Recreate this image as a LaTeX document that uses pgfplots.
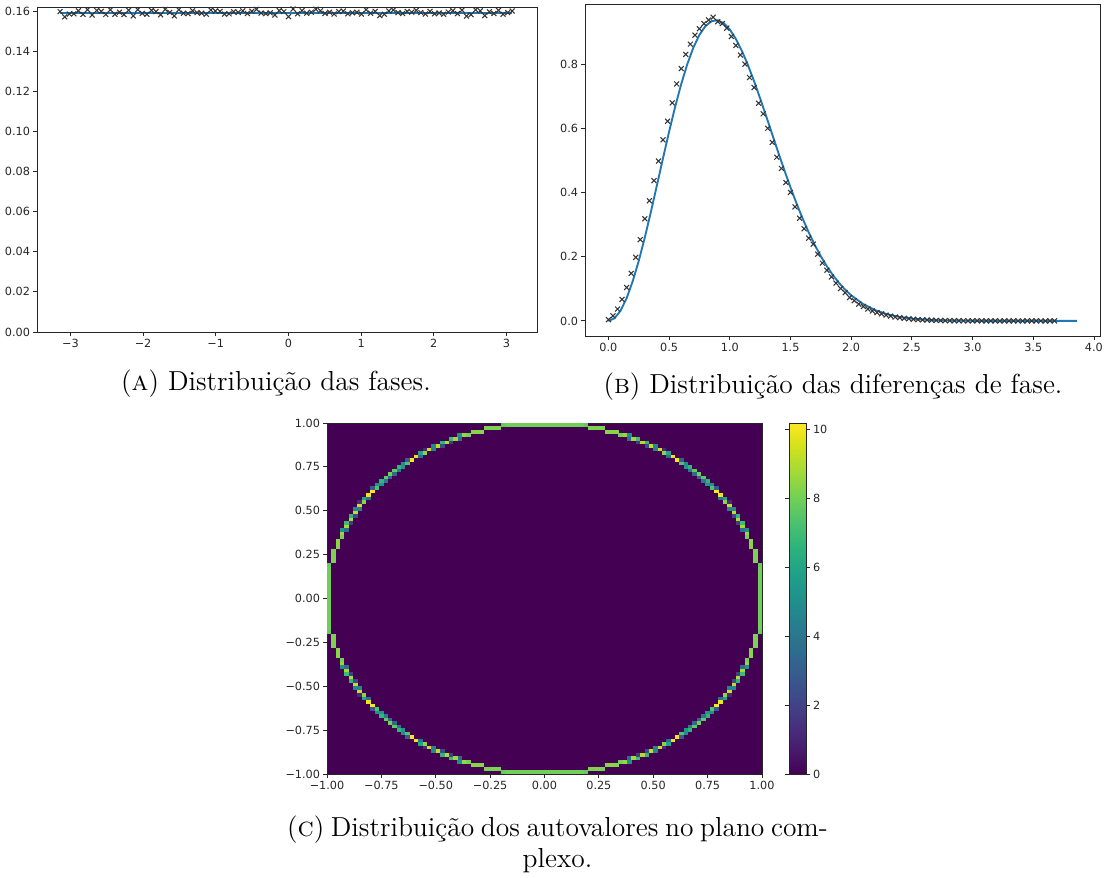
\documentclass[border=0pt]{standalone}
\usepackage{fontspec}
\usepackage{pgfplots}
\pgfplotsset{compat=1.18}
\newfontfamily\dejavu{DejaVu Sans}
\newcommand\tf{\dejavu\fontsize{4.5}{5.4}\selectfont}
\definecolor{mplblue}{HTML}{1F77B4}
\definecolor{vir0}{HTML}{440154}
\pgfdeclareplotmark{cell}{\pgfpathrectangle{\pgfqpoint{-0.89pt}{-0.72pt}}{\pgfqpoint{1.78pt}{1.44pt}}\pgfusepathqfill}
\pgfplotsset{
  mplstyle/.style={
    scale only axis, tick pos=left, tick align=outside,
    major tick length=1.6pt,
    major tick style={black!85, line width=0.35pt},
    axis line style={black!85, line width=0.4pt},
    tick label style={font=\tf, text=black!85},
    xticklabel style={inner sep=1pt},
    yticklabel style={inner sep=1pt},
  }
}
\begin{document}
\begin{tikzpicture}
\useasboundingbox (0,-350.8pt) rectangle (444.4pt,0);
% (A)
\begin{axis}[mplstyle, at={(14.8pt,-2.8pt)}, anchor=north west,
  width=200pt, height=130pt,
  xmin=-3.46, xmax=3.42, ymin=0, ymax=0.162,
  xtick={-3,-2,-1,0,1,2,3}, xticklabels={−3,−2,−1,0,1,2,3},
  ytick={0,0.02,0.04,0.06,0.08,0.1,0.12,0.14,0.16},
  yticklabels={0.00,0.02,0.04,0.06,0.08,0.10,0.12,0.14,0.16}]
\addplot[only marks, mark=x, mark size=1.4pt, black!80, mark options={line width=0.42pt}] coordinates {
(-3.142,0.1597) (-3.079,0.1571) (-3.016,0.1585) (-2.953,0.1586) (-2.890,0.1601) (-2.827,0.1583) (-2.765,0.1607) (-2.702,0.1580) (-2.639,0.1603) (-2.576,0.1598)
(-2.513,0.1583) (-2.450,0.1606) (-2.388,0.1584) (-2.325,0.1594) (-2.262,0.1582) (-2.199,0.1604) (-2.136,0.1576) (-2.073,0.1607) (-2.011,0.1588) (-1.948,0.1584)
(-1.885,0.1603) (-1.822,0.1597) (-1.759,0.1581) (-1.696,0.1608) (-1.634,0.1593) (-1.571,0.1576) (-1.508,0.1606) (-1.445,0.1589) (-1.382,0.1587) (-1.319,0.1601)
(-1.257,0.1592) (-1.194,0.1589) (-1.131,0.1584) (-1.068,0.1605) (-1.005,0.1600) (-0.942,0.1598) (-0.880,0.1585) (-0.817,0.1586) (-0.754,0.1596) (-0.691,0.1593)
(-0.628,0.1601) (-0.565,0.1588) (-0.503,0.1599) (-0.440,0.1608) (-0.377,0.1590) (-0.314,0.1587) (-0.251,0.1591) (-0.188,0.1580) (-0.126,0.1602) (-0.063,0.1597)
(0.000,0.1572) (0.063,0.1610) (0.126,0.1586) (0.188,0.1602) (0.251,0.1589) (0.314,0.1594) (0.377,0.1609) (0.440,0.1601) (0.503,0.1588) (0.565,0.1594)
(0.628,0.1585) (0.691,0.1597) (0.754,0.1600) (0.817,0.1586) (0.880,0.1591) (0.942,0.1594) (1.005,0.1585) (1.068,0.1606) (1.131,0.1589) (1.194,0.1598)
(1.257,0.1577) (1.319,0.1584) (1.382,0.1600) (1.445,0.1605) (1.508,0.1592) (1.571,0.1588) (1.634,0.1598) (1.696,0.1594) (1.759,0.1603) (1.822,0.1592)
(1.885,0.1585) (1.948,0.1598) (2.011,0.1586) (2.073,0.1590) (2.136,0.1584) (2.199,0.1595) (2.262,0.1601) (2.325,0.1587) (2.388,0.1604) (2.450,0.1575)
(2.513,0.1582) (2.576,0.1606) (2.639,0.1601) (2.702,0.1577) (2.765,0.1596) (2.827,0.1588) (2.890,0.1603) (2.953,0.1584) (3.016,0.1592) (3.079,0.1600)
};
\addplot[mplblue, line width=0.75pt] coordinates {(-3.142,0.15915) (3.079,0.15915)};
\end{axis}
% (B)
\begin{axis}[mplstyle, at={(234pt,-1.6pt)}, anchor=north west,
  width=206pt, height=132.8pt,
  xmin=-0.193, xmax=4.05, ymin=-0.047, ymax=0.987,
  xtick={0,0.5,1,1.5,2,2.5,3,3.5,4}, xticklabels={0.0,0.5,1.0,1.5,2.0,2.5,3.0,3.5,4.0},
  ytick={0,0.2,0.4,0.6,0.8}, yticklabels={0.0,0.2,0.4,0.6,0.8}]
\addplot[only marks, mark=x, mark size=1.4pt, black!80, mark options={line width=0.42pt}] coordinates {
(0,0.004) (0.0375,0.016) (0.075,0.037) (0.1125,0.067) (0.15,0.104) (0.1875,0.148) (0.225,0.198) (0.2625,0.253) (0.3,0.318) (0.3375,0.374)
(0.375,0.437) (0.4125,0.498) (0.45,0.564) (0.4875,0.622) (0.525,0.679) (0.5625,0.738) (0.6,0.786) (0.6375,0.830) (0.675,0.862) (0.7125,0.890)
(0.75,0.910) (0.7875,0.926) (0.825,0.937) (0.8625,0.946) (0.9,0.932) (0.9375,0.926) (0.975,0.912) (1.0125,0.886) (1.05,0.858) (1.0875,0.828)
(1.125,0.800) (1.1625,0.758) (1.2,0.727) (1.2375,0.678) (1.275,0.645) (1.3125,0.600) (1.35,0.556) (1.3875,0.510) (1.425,0.475) (1.4625,0.431)
(1.5,0.400) (1.5375,0.355) (1.575,0.320) (1.6125,0.287) (1.65,0.258) (1.6875,0.239) (1.725,0.208) (1.7625,0.180) (1.8,0.158) (1.8375,0.137)
(1.875,0.118) (1.9125,0.101) (1.95,0.088) (1.9875,0.073) (2.025,0.063) (2.0625,0.052) (2.1,0.045) (2.1375,0.037) (2.175,0.031) (2.2125,0.026)
(2.25,0.022) (2.2875,0.018) (2.325,0.015) (2.3625,0.012) (2.4,0.010) (2.4375,0.008) (2.475,0.007) (2.5125,0.005) (2.55,0.004) (2.5875,0.0035)
(2.625,0.0028) (2.6625,0.0022) (2.7,0.0017) (2.7375,0.0013) (2.775,0.0010) (2.8125,0.0008) (2.85,0.0006) (2.8875,0.0005) (2.925,0.0004) (2.9625,0.0003)
(3.0,0.0002) (3.0375,0.0002) (3.075,0.0001) (3.1125,0.0001) (3.15,0) (3.1875,0) (3.225,0) (3.2625,0) (3.3,0) (3.3375,0)
(3.375,0) (3.4125,0) (3.45,0) (3.4875,0) (3.525,0) (3.5625,0) (3.6,0) (3.6375,0) (3.675,0)
};
\addplot[mplblue, line width=0.75pt] coordinates {
(0,0) (0.05,0.0081) (0.1,0.0320) (0.15,0.0709) (0.2,0.1233) (0.25,0.1871) (0.3,0.2602) (0.35,0.3398) (0.4,0.4232) (0.45,0.5073)
(0.5,0.5896) (0.55,0.6673) (0.6,0.7380) (0.65,0.7999) (0.7,0.8514) (0.75,0.8911) (0.8,0.9186) (0.85,0.9336) (0.9,0.9364) (0.95,0.9274)
(1.0,0.9076) (1.05,0.8781) (1.1,0.8405) (1.15,0.7961) (1.2,0.7465) (1.25,0.6929) (1.3,0.6372) (1.35,0.5805) (1.4,0.5240) (1.45,0.4688)
(1.5,0.4157) (1.55,0.3656) (1.6,0.3188) (1.65,0.2757) (1.7,0.2364) (1.75,0.2012) (1.8,0.1698) (1.85,0.1422) (1.9,0.1181) (1.95,0.0973)
(2.0,0.0796) (2.1,0.0521) (2.2,0.0331) (2.3,0.0204) (2.4,0.0122) (2.5,0.0071) (2.6,0.0040) (2.7,0.0022) (2.8,0.0012) (3.0,0.0003)
(3.2,0.0001) (3.5,0) (3.86,0)
};
\end{axis}
% (C)
\begin{axis}[mplstyle, at={(130.8pt,-169.2pt)}, anchor=north west,
  width=174pt, height=140.4pt, axis on top,
  xmin=-1, xmax=1, ymin=-1, ymax=1,
  xtick={-1,-0.75,-0.5,-0.25,0,0.25,0.5,0.75,1},
  xticklabels={−1.00,−0.75,−0.50,−0.25,0.00,0.25,0.50,0.75,1.00},
  ytick={-1,-0.75,-0.5,-0.25,0,0.25,0.5,0.75,1},
  yticklabels={−1.00,−0.75,−0.50,−0.25,0.00,0.25,0.50,0.75,1.00},
  colormap/viridis, point meta min=0, point meta max=10.2,
  colorbar,
  colorbar shift/.style={xshift=10.8pt},
  colorbar style={at={(parent axis.north east)}, anchor=north west,
    scale only axis, width=6.8pt,
    ytick={0,2,4,6,8,10}, yticklabels={0,2,4,6,8,10},
    tick align=outside, major tick length=1.6pt,
    major tick style={black!85, line width=0.35pt},
    axis line style={black!85, line width=0.4pt},
    yticklabel pos=right,
    tick label style={font=\tf, text=black!85},
    yticklabel style={inner sep=1pt}}]
\addplot[draw=none, fill=vir0] coordinates {(-1,-1) (1,-1) (1,1) (-1,1) (-1,-1)};
\addplot[scatter, only marks, mark=cell, point meta=explicit,
  scatter/use mapped color={draw=none, fill=mapped color}] coordinates {
% octant (x,y)
(0.01,0.99)[8] (0.03,0.99)[8] (0.05,0.99)[8] (0.07,0.99)[8] (0.09,0.99)[8] (0.11,0.99)[8] (0.13,0.99)[8] (0.15,0.99)[8] (0.17,0.99)[8] (0.19,0.99)[7.8]
(0.21,0.97)[8.2] (0.23,0.97)[8.2] (0.25,0.97)[8.2] (0.27,0.97)[8.2] (0.29,0.95)[8.4] (0.31,0.95)[8.4] (0.33,0.95)[8.4]
(0.35,0.93)[8.1] (0.37,0.93)[8.6] (0.39,0.93)[5.1] (0.39,0.91)[3.6] (0.41,0.91)[8.8] (0.43,0.91)[7.0]
(0.43,0.89)[1.8] (0.45,0.89)[9.0] (0.47,0.89)[6.7] (0.47,0.87)[2.3] (0.49,0.87)[9.2] (0.51,0.87)[4.7]
(0.51,0.85)[4.6] (0.53,0.85)[9.4] (0.55,0.85)[1.2] (0.55,0.83)[8.4] (0.57,0.83)[6.0] (0.57,0.81)[3.8] (0.59,0.81)[9.9]
(0.61,0.79)[10.1] (0.63,0.79)[2.9] (0.63,0.77)[7.4] (0.65,0.77)[5.1] (0.65,0.75)[5.4] (0.67,0.75)[6.7]
(0.67,0.73)[4.1] (0.69,0.73)[7.7] (0.69,0.71)[3.4] (0.71,0.71)[8.0]
% (-x,y)
(-0.01,0.99)[8] (-0.03,0.99)[8] (-0.05,0.99)[8] (-0.07,0.99)[8] (-0.09,0.99)[8] (-0.11,0.99)[8] (-0.13,0.99)[8] (-0.15,0.99)[8] (-0.17,0.99)[8] (-0.19,0.99)[7.8]
(-0.21,0.97)[8.2] (-0.23,0.97)[8.2] (-0.25,0.97)[8.2] (-0.27,0.97)[8.2] (-0.29,0.95)[8.4] (-0.31,0.95)[8.4] (-0.33,0.95)[8.4]
(-0.35,0.93)[8.1] (-0.37,0.93)[8.6] (-0.39,0.93)[5.1] (-0.39,0.91)[3.6] (-0.41,0.91)[8.8] (-0.43,0.91)[7.0]
(-0.43,0.89)[1.8] (-0.45,0.89)[9.0] (-0.47,0.89)[6.7] (-0.47,0.87)[2.3] (-0.49,0.87)[9.2] (-0.51,0.87)[4.7]
(-0.51,0.85)[4.6] (-0.53,0.85)[9.4] (-0.55,0.85)[1.2] (-0.55,0.83)[8.4] (-0.57,0.83)[6.0] (-0.57,0.81)[3.8] (-0.59,0.81)[9.9]
(-0.61,0.79)[10.1] (-0.63,0.79)[2.9] (-0.63,0.77)[7.4] (-0.65,0.77)[5.1] (-0.65,0.75)[5.4] (-0.67,0.75)[6.7]
(-0.67,0.73)[4.1] (-0.69,0.73)[7.7] (-0.69,0.71)[3.4] (-0.71,0.71)[8.0]
% (x,-y)
(0.01,-0.99)[8] (0.03,-0.99)[8] (0.05,-0.99)[8] (0.07,-0.99)[8] (0.09,-0.99)[8] (0.11,-0.99)[8] (0.13,-0.99)[8] (0.15,-0.99)[8] (0.17,-0.99)[8] (0.19,-0.99)[7.8]
(0.21,-0.97)[8.2] (0.23,-0.97)[8.2] (0.25,-0.97)[8.2] (0.27,-0.97)[8.2] (0.29,-0.95)[8.4] (0.31,-0.95)[8.4] (0.33,-0.95)[8.4]
(0.35,-0.93)[8.1] (0.37,-0.93)[8.6] (0.39,-0.93)[5.1] (0.39,-0.91)[3.6] (0.41,-0.91)[8.8] (0.43,-0.91)[7.0]
(0.43,-0.89)[1.8] (0.45,-0.89)[9.0] (0.47,-0.89)[6.7] (0.47,-0.87)[2.3] (0.49,-0.87)[9.2] (0.51,-0.87)[4.7]
(0.51,-0.85)[4.6] (0.53,-0.85)[9.4] (0.55,-0.85)[1.2] (0.55,-0.83)[8.4] (0.57,-0.83)[6.0] (0.57,-0.81)[3.8] (0.59,-0.81)[9.9]
(0.61,-0.79)[10.1] (0.63,-0.79)[2.9] (0.63,-0.77)[7.4] (0.65,-0.77)[5.1] (0.65,-0.75)[5.4] (0.67,-0.75)[6.7]
(0.67,-0.73)[4.1] (0.69,-0.73)[7.7] (0.69,-0.71)[3.4] (0.71,-0.71)[8.0]
% (-x,-y)
(-0.01,-0.99)[8] (-0.03,-0.99)[8] (-0.05,-0.99)[8] (-0.07,-0.99)[8] (-0.09,-0.99)[8] (-0.11,-0.99)[8] (-0.13,-0.99)[8] (-0.15,-0.99)[8] (-0.17,-0.99)[8] (-0.19,-0.99)[7.8]
(-0.21,-0.97)[8.2] (-0.23,-0.97)[8.2] (-0.25,-0.97)[8.2] (-0.27,-0.97)[8.2] (-0.29,-0.95)[8.4] (-0.31,-0.95)[8.4] (-0.33,-0.95)[8.4]
(-0.35,-0.93)[8.1] (-0.37,-0.93)[8.6] (-0.39,-0.93)[5.1] (-0.39,-0.91)[3.6] (-0.41,-0.91)[8.8] (-0.43,-0.91)[7.0]
(-0.43,-0.89)[1.8] (-0.45,-0.89)[9.0] (-0.47,-0.89)[6.7] (-0.47,-0.87)[2.3] (-0.49,-0.87)[9.2] (-0.51,-0.87)[4.7]
(-0.51,-0.85)[4.6] (-0.53,-0.85)[9.4] (-0.55,-0.85)[1.2] (-0.55,-0.83)[8.4] (-0.57,-0.83)[6.0] (-0.57,-0.81)[3.8] (-0.59,-0.81)[9.9]
(-0.61,-0.79)[10.1] (-0.63,-0.79)[2.9] (-0.63,-0.77)[7.4] (-0.65,-0.77)[5.1] (-0.65,-0.75)[5.4] (-0.67,-0.75)[6.7]
(-0.67,-0.73)[4.1] (-0.69,-0.73)[7.7] (-0.69,-0.71)[3.4] (-0.71,-0.71)[8.0]
% (y,x)
(0.99,0.01)[8] (0.99,0.03)[8] (0.99,0.05)[8] (0.99,0.07)[8] (0.99,0.09)[8] (0.99,0.11)[8] (0.99,0.13)[8] (0.99,0.15)[8] (0.99,0.17)[8] (0.99,0.19)[7.8]
(0.97,0.21)[8.2] (0.97,0.23)[8.2] (0.97,0.25)[8.2] (0.97,0.27)[8.2] (0.95,0.29)[8.4] (0.95,0.31)[8.4] (0.95,0.33)[8.4]
(0.93,0.35)[8.1] (0.93,0.37)[8.6] (0.93,0.39)[5.1] (0.91,0.39)[3.6] (0.91,0.41)[8.8] (0.91,0.43)[7.0]
(0.89,0.43)[1.8] (0.89,0.45)[9.0] (0.89,0.47)[6.7] (0.87,0.47)[2.3] (0.87,0.49)[9.2] (0.87,0.51)[4.7]
(0.85,0.51)[4.6] (0.85,0.53)[9.4] (0.85,0.55)[1.2] (0.83,0.55)[8.4] (0.83,0.57)[6.0] (0.81,0.57)[3.8] (0.81,0.59)[9.9]
(0.79,0.61)[10.1] (0.79,0.63)[2.9] (0.77,0.63)[7.4] (0.77,0.65)[5.1] (0.75,0.65)[5.4] (0.75,0.67)[6.7]
(0.73,0.67)[4.1] (0.73,0.69)[7.7] (0.71,0.69)[3.4]
% (-y,x)
(-0.99,0.01)[8] (-0.99,0.03)[8] (-0.99,0.05)[8] (-0.99,0.07)[8] (-0.99,0.09)[8] (-0.99,0.11)[8] (-0.99,0.13)[8] (-0.99,0.15)[8] (-0.99,0.17)[8] (-0.99,0.19)[7.8]
(-0.97,0.21)[8.2] (-0.97,0.23)[8.2] (-0.97,0.25)[8.2] (-0.97,0.27)[8.2] (-0.95,0.29)[8.4] (-0.95,0.31)[8.4] (-0.95,0.33)[8.4]
(-0.93,0.35)[8.1] (-0.93,0.37)[8.6] (-0.93,0.39)[5.1] (-0.91,0.39)[3.6] (-0.91,0.41)[8.8] (-0.91,0.43)[7.0]
(-0.89,0.43)[1.8] (-0.89,0.45)[9.0] (-0.89,0.47)[6.7] (-0.87,0.47)[2.3] (-0.87,0.49)[9.2] (-0.87,0.51)[4.7]
(-0.85,0.51)[4.6] (-0.85,0.53)[9.4] (-0.85,0.55)[1.2] (-0.83,0.55)[8.4] (-0.83,0.57)[6.0] (-0.81,0.57)[3.8] (-0.81,0.59)[9.9]
(-0.79,0.61)[10.1] (-0.79,0.63)[2.9] (-0.77,0.63)[7.4] (-0.77,0.65)[5.1] (-0.75,0.65)[5.4] (-0.75,0.67)[6.7]
(-0.73,0.67)[4.1] (-0.73,0.69)[7.7] (-0.71,0.69)[3.4]
% (y,-x)
(0.99,-0.01)[8] (0.99,-0.03)[8] (0.99,-0.05)[8] (0.99,-0.07)[8] (0.99,-0.09)[8] (0.99,-0.11)[8] (0.99,-0.13)[8] (0.99,-0.15)[8] (0.99,-0.17)[8] (0.99,-0.19)[7.8]
(0.97,-0.21)[8.2] (0.97,-0.23)[8.2] (0.97,-0.25)[8.2] (0.97,-0.27)[8.2] (0.95,-0.29)[8.4] (0.95,-0.31)[8.4] (0.95,-0.33)[8.4]
(0.93,-0.35)[8.1] (0.93,-0.37)[8.6] (0.93,-0.39)[5.1] (0.91,-0.39)[3.6] (0.91,-0.41)[8.8] (0.91,-0.43)[7.0]
(0.89,-0.43)[1.8] (0.89,-0.45)[9.0] (0.89,-0.47)[6.7] (0.87,-0.47)[2.3] (0.87,-0.49)[9.2] (0.87,-0.51)[4.7]
(0.85,-0.51)[4.6] (0.85,-0.53)[9.4] (0.85,-0.55)[1.2] (0.83,-0.55)[8.4] (0.83,-0.57)[6.0] (0.81,-0.57)[3.8] (0.81,-0.59)[9.9]
(0.79,-0.61)[10.1] (0.79,-0.63)[2.9] (0.77,-0.63)[7.4] (0.77,-0.65)[5.1] (0.75,-0.65)[5.4] (0.75,-0.67)[6.7]
(0.73,-0.67)[4.1] (0.73,-0.69)[7.7] (0.71,-0.69)[3.4]
% (-y,-x)
(-0.99,-0.01)[8] (-0.99,-0.03)[8] (-0.99,-0.05)[8] (-0.99,-0.07)[8] (-0.99,-0.09)[8] (-0.99,-0.11)[8] (-0.99,-0.13)[8] (-0.99,-0.15)[8] (-0.99,-0.17)[8] (-0.99,-0.19)[7.8]
(-0.97,-0.21)[8.2] (-0.97,-0.23)[8.2] (-0.97,-0.25)[8.2] (-0.97,-0.27)[8.2] (-0.95,-0.29)[8.4] (-0.95,-0.31)[8.4] (-0.95,-0.33)[8.4]
(-0.93,-0.35)[8.1] (-0.93,-0.37)[8.6] (-0.93,-0.39)[5.1] (-0.91,-0.39)[3.6] (-0.91,-0.41)[8.8] (-0.91,-0.43)[7.0]
(-0.89,-0.43)[1.8] (-0.89,-0.45)[9.0] (-0.89,-0.47)[6.7] (-0.87,-0.47)[2.3] (-0.87,-0.49)[9.2] (-0.87,-0.51)[4.7]
(-0.85,-0.51)[4.6] (-0.85,-0.53)[9.4] (-0.85,-0.55)[1.2] (-0.83,-0.55)[8.4] (-0.83,-0.57)[6.0] (-0.81,-0.57)[3.8] (-0.81,-0.59)[9.9]
(-0.79,-0.61)[10.1] (-0.79,-0.63)[2.9] (-0.77,-0.63)[7.4] (-0.77,-0.65)[5.1] (-0.75,-0.65)[5.4] (-0.75,-0.67)[6.7]
(-0.73,-0.67)[4.1] (-0.73,-0.69)[7.7] (-0.71,-0.69)[3.4]
};
\end{axis}
% captions
\node[anchor=base, font=\fontsize{11}{13.6}\selectfont] at (110.4pt,-156pt) {(\textsc{a}) Distribuição das fases.};
\node[anchor=base, font=\fontsize{11}{13.6}\selectfont] at (333.2pt,-157.2pt) {(\textsc{b}) Distribuição das diferenças de fase.};
\node[anchor=base, font=\fontsize{11}{13.6}\selectfont] at (223pt,-334.6pt) {\spaceskip=0.24em\relax(\textsc{c}) Distribuição dos autovalores no plano com-};
\node[anchor=base, font=\fontsize{11}{13.6}\selectfont] at (223pt,-347pt) {plexo.};
\end{tikzpicture}
\end{document}
